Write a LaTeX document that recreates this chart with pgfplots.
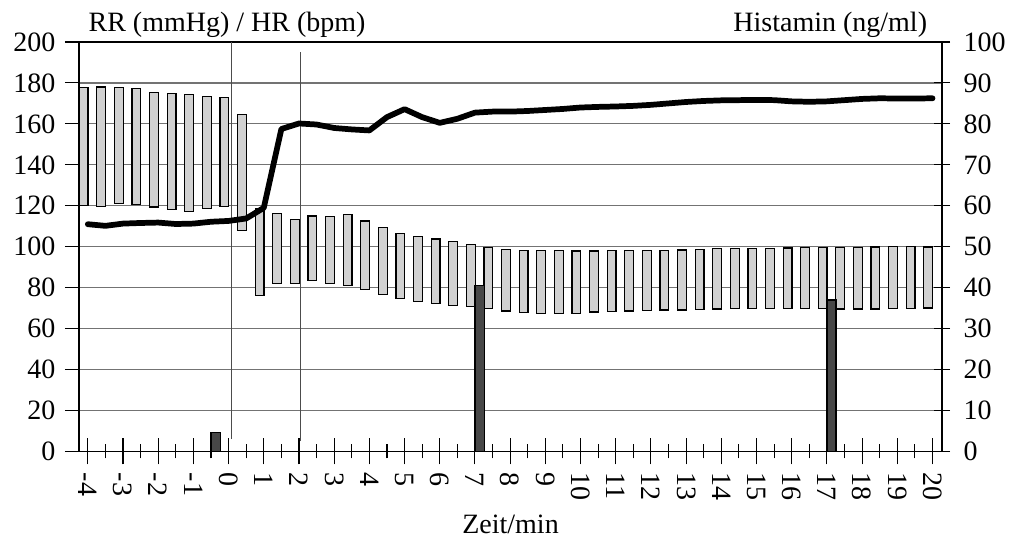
\documentclass[border=0pt]{standalone}
\usepackage{fontspec}
\setmainfont{Liberation Serif}
\usepackage{pgfplots}
\pgfplotsset{compat=1.18}
\usepackage{pgfplotstable}

% RR: diastolic (lo) and systolic (hi), mmHg
\pgfplotstableread{
x lo hi
-4.12 120.0 177.7
-3.62 119.8 178.0
-3.12 121.2 177.6
-2.62 120.8 177.1
-2.12 119.4 175.5
-1.62 118.1 174.8
-1.12 117.3 174.3
-0.62 118.8 173.5
-0.12 119.6 172.9
0.38 107.9 164.7
0.88 76.3 118.8
1.38 82.2 116.2
1.88 82.2 113.4
2.38 83.4 115.0
2.88 82.2 114.7
3.38 81.2 115.9
3.88 79.2 112.6
4.38 76.8 109.3
4.88 74.8 106.6
5.38 73.4 104.9
5.88 72.2 103.8
6.38 71.2 102.5
6.88 70.7 100.9
7.38 69.8 99.6
7.88 68.6 98.8
8.38 67.8 98.3
8.88 67.5 98.1
9.38 67.5 98.1
9.88 67.5 97.9
10.38 68.1 97.9
10.88 68.4 98.1
11.38 68.6 98.1
11.88 68.9 98.1
12.38 69.1 98.3
12.88 69.1 98.4
13.38 69.4 98.6
13.88 69.6 99.0
14.38 69.9 99.2
14.88 69.9 99.2
15.38 69.9 99.2
15.88 69.9 99.4
16.38 69.9 99.6
16.88 69.9 99.7
17.38 69.6 99.7
17.88 69.6 99.6
18.38 69.6 99.9
18.88 69.9 100.3
19.38 69.9 100.1
19.88 70.1 99.9
}\rrdata

% HR, bpm
\pgfplotstableread{
x hr
-4 111.0
-3.5 110.2
-3 111.3
-2.5 111.6
-2 111.8
-1.5 111.1
-1 111.3
-0.5 112.2
0 112.6
0.5 113.8
1 119.0
1.5 157.5
2 160.2
2.5 159.7
3 158.0
3.5 157.3
4 156.8
4.5 163.3
5 167.2
5.5 163.3
6 160.5
6.5 162.5
7 165.5
7.5 166.0
8 166.0
8.5 166.3
9 166.8
9.5 167.3
10 168.0
10.5 168.3
11 168.5
11.5 168.8
12 169.3
12.5 170.0
13 170.7
13.5 171.2
14 171.5
14.5 171.6
15 171.7
15.5 171.6
16 171.0
16.5 170.8
17 171.0
17.5 171.6
18 172.2
18.5 172.5
19 172.4
19.5 172.4
20 172.5
}\hrdata

% Histamin, ng/ml
\pgfplotstableread{
x hist
-0.37 4.6
7.13 40.6
17.13 37.0
}\histdata

\begin{document}
\fontsize{21}{25}\selectfont
\begin{tikzpicture}
\useasboundingbox (0,0) rectangle (762pt,409.5pt);
\pgfplotsset{
  base/.style={
    scale only axis, width=647.25pt, height=307.1pt,
    at={(59.25pt,70.9pt)}, anchor=south west,
    xmin=-4.25, xmax=20.27,
    /pgf/number format/assume math mode=true,
    tick label style={font=\fontsize{21}{25}\selectfont},
    axis line style={line width=1pt},
    tick style={line width=0.8pt, black},
  },
}
% bars + x axis
\begin{axis}[base,
  ybar stacked, bar width=0.25,
  ymin=0, ymax=200, ytick={0,20,...,200}, yticklabels={},
  y tick style={draw=none},
  ymajorgrids, grid style={black!55, line width=0.9pt},
  axis x line*=bottom, axis y line*=left,
  xtick={-4,...,20}, minor x tick num=1,
  tick align=center, major tick length=19.5pt, minor tick length=10.5pt,
  xticklabel style={rotate=-90, anchor=west, xshift=-1pt},
  xlabel={Zeit/min},
  xlabel style={at={(axis description cs:0.5,0)}, anchor=center, yshift=-55pt},
]
\addplot[draw=none, fill=none] table[x=x, y=lo] {\rrdata};
\addplot[fill=black!18, draw=black, line width=0.9pt] table[x=x, y expr=\thisrow{hi}-\thisrow{lo}] {\rrdata};
\end{axis}
% HR line + left y axis
\begin{axis}[base, clip=false,
  ymin=0, ymax=200, ytick={0,20,...,200},
  axis x line=none, axis y line*=left,
  tick align=outside, major tick length=10.5pt,
]
\addplot[black, line width=1pt] coordinates {(-4.25,200) (20.27,200)};
\addplot[black!70, line width=0.8pt] coordinates {(0.08,6) (0.08,200)};
\addplot[black!70, line width=0.8pt] coordinates {(2.05,5) (2.05,195)};
\addplot[black, line width=4.3pt, line join=round, line cap=round] table[x=x, y=hr] {\hrdata};
\node[anchor=base west, yshift=7.5pt] at (rel axis cs:0,1) {RR (mmHg) / HR (bpm)};
\node[anchor=base east, yshift=7.5pt, xshift=-4pt] at (rel axis cs:1,1) {Histamin (ng/ml)};
\end{axis}
% Histamin bars + right y axis
\begin{axis}[base,
  ybar, bar width=0.26,
  ymin=0, ymax=100, ytick={0,10,...,100},
  axis x line=none, axis y line*=right,
  tick align=center, major tick length=12pt,
  yticklabel style={xshift=3pt},
]
\addplot[fill=black!72, draw=black, line width=0.9pt] table[x=x, y=hist] {\histdata};
\end{axis}
\end{tikzpicture}
\end{document}
